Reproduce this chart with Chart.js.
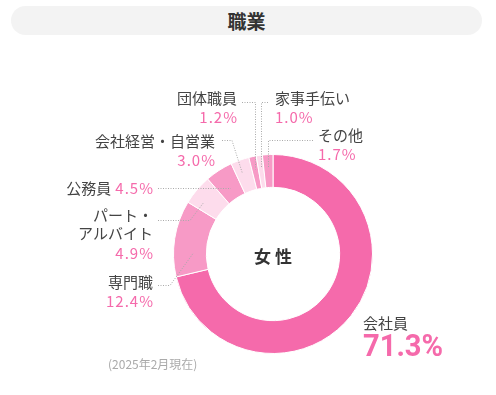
<!DOCTYPE html>
<html lang="ja">
<head>
<meta charset="utf-8">
<script src="https://cdn.jsdelivr.net/npm/chart.js@4"></script>
<style>
  html, body { margin: 0; padding: 0; background: #fff; }
  #wrap { position: relative; width: 496px; height: 395px; overflow: hidden; font-family: "Noto Sans CJK JP", "Noto Sans", sans-serif; }
  #title {
    position: absolute; left: 11px; top: 6px; width: 471px; height: 29px;
    background: #f3f3f3; border-radius: 15px;
    text-align: center; line-height: 29px; font-size: 19px; font-weight: 700; color: #333;
  }
  #note { position: absolute; left: 108px; top: 355px; font-size: 12px; color: #aaa; }
  canvas { position: absolute; left: 0; top: 0; }
</style>
</head>
<body>
<div id="wrap">
  <div id="title">職業</div>
  <canvas id="chart" width="496" height="395"></canvas>
  <div id="note">(2025年2月現在)</div>
</div>
<script>
const categories = ["会社員", "専門職", "パート・アルバイト", "公務員", "会社経営・自営業", "団体職員", "家事手伝い", "その他"];
const shares = [71.3, 12.4, 4.9, 4.5, 3.0, 1.2, 1.0, 1.7];
const centerLabel = "女 性";

const colors = ["#f56aab", "#f79ac6", "#fddcec", "#f79ac6", "#fddcec", "#f79ac6", "#fddcec", "#f79ac6"];
const grey = "#444";
const pink = "#f56aab";

// label placement per slice (layout only)
const labelLayout = [
  { x: 363, y: 323, align: "left", big: true },
  { x: 153, y: 282, align: "right", line: { y: 285, from: 158, elbow: 170, t: 0.31, r: 0.4 } },
  { x: 153, y: 215, align: "right", wrap: ["パート・", "アルバイト"], line: { y: 220, from: 158, elbow: 190, t: 0.27, r: 0.6 } },
  { x: 153, y: 188, align: "right", inline: true, line: { y: 188, from: 158, elbow: null, t: 0.5, r: 0.33 } },
  { x: 215, y: 141, align: "right", line: { y: 140, from: 222, elbow: 232, t: 0.38, r: 0.62 } },
  { x: 237, y: 98, align: "right", line: { y: 102, from: 242, elbow: "v", t: 0.5, r: 0.6 } },
  { x: 275, y: 98, align: "left", line: { y: 102, from: 268, elbow: "v", t: 0.5, r: 0.6 } },
  { x: 318, y: 135, align: "left", line: { y: 140, from: 313, elbow: "v", t: 0.5, r: 0.6 } }
];

const FONT = '"Noto Sans CJK JP", "Noto Sans", sans-serif';

const labelPlugin = {
  id: "sliceLabels",
  afterDatasetsDraw(chart) {
    const ctx = chart.ctx;
    const arcs = chart.getDatasetMeta(0).data;
    ctx.save();
    ctx.textBaseline = "middle";

    // center text
    const a0 = arcs[0];
    ctx.fillStyle = "#333";
    ctx.textAlign = "center";
    ctx.font = "700 17px " + FONT;
    ctx.fillText(centerLabel, a0.x, a0.y + 3);

    labelLayout.forEach((L, i) => {
      const arc = arcs[i];
      const pct = shares[i].toFixed(1) + "%";

      // leader line
      if (L.line) {
        const m = L.line;
        const ang = arc.startAngle + m.t * (arc.endAngle - arc.startAngle);
        const rad = arc.innerRadius + m.r * (arc.outerRadius - arc.innerRadius);
        const ax = arc.x + Math.cos(ang) * rad;
        const ay = arc.y + Math.sin(ang) * rad;
        ctx.strokeStyle = "#aaa";
        ctx.lineWidth = 1;
        ctx.setLineDash([1, 1.5]);
        ctx.beginPath();
        ctx.moveTo(m.from, m.y + 0.5);
        if (m.elbow === "v") {
          ctx.lineTo(Math.round(ax) + 0.5, m.y + 0.5);
          ctx.lineTo(Math.round(ax) + 0.5, ay);
        } else if (m.elbow != null) {
          ctx.lineTo(m.elbow, m.y + 0.5);
          ctx.lineTo(ax, ay);
        } else {
          ctx.lineTo(ax, m.y + 0.5);
        }
        ctx.stroke();
        ctx.setLineDash([]);
      }

      ctx.textAlign = L.align;
      ctx.letterSpacing = "0px";
      if (L.inline) {
        ctx.font = "400 15px " + FONT;
        ctx.letterSpacing = "1px";
        ctx.fillStyle = pink;
        const pw = ctx.measureText(pct).width;
        ctx.fillText(pct, L.x + 1, L.y);
        ctx.letterSpacing = "0px";
        ctx.fillStyle = grey;
        ctx.fillText(categories[i], L.x - pw - 3, L.y);
        return;
      }

      const lines = L.wrap || [categories[i]];
      ctx.font = "400 15px " + FONT;
      ctx.fillStyle = grey;
      lines.forEach((t, k) => ctx.fillText(t, L.x, L.y + k * 18.5));
      const py = L.y + (lines.length - 1) * 18.5 + 19.5;

      if (L.big) {
        ctx.save();
        ctx.translate(L.x, py + 5);
        ctx.scale(0.91, 1);
        ctx.font = "700 32px Roboto, " + FONT;
        ctx.fillStyle = pink;
        ctx.textAlign = "left";
        ctx.fillText(pct, 0, 0);
        ctx.restore();
      } else {
        ctx.letterSpacing = "1px";
        ctx.fillStyle = pink;
        ctx.fillText(pct, L.x + (L.align === "right" ? 1 : 0), py);
        ctx.letterSpacing = "0px";
      }
    });
    ctx.restore();
  }
};

new Chart(document.getElementById("chart"), {
  type: "doughnut",
  data: {
    labels: categories,
    datasets: [{
      data: shares,
      backgroundColor: colors,
      borderColor: "#fff",
      borderWidth: 1
    }]
  },
  options: {
    responsive: false,
    animation: false,
    cutout: "67%",
    layout: { padding: { left: 173, right: 123, top: 154, bottom: 41 } },
    plugins: {
      legend: { display: false },
      tooltip: { enabled: false },
      title: { display: false }
    }
  },
  plugins: [labelPlugin]
});
</script>
</body>
</html>
